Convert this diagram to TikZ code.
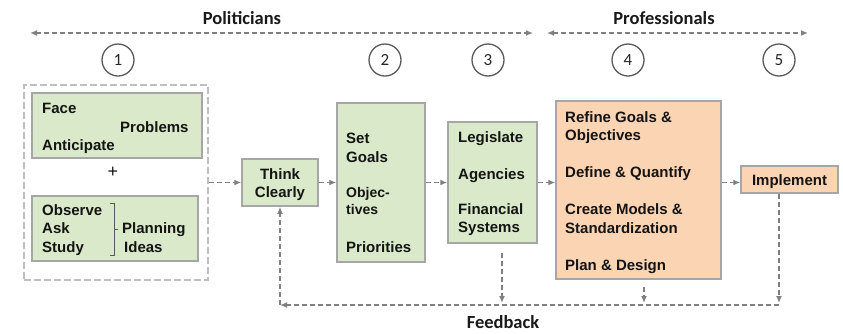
\documentclass[tikz,border=0pt]{standalone}
\usepackage{fontspec}
\setmainfont{Liberation Sans}
\newfontfamily\calibri{Carlito}
\usetikzlibrary{arrows.meta}

\definecolor{boxgreen}{RGB}{217,233,201}
\definecolor{boxorange}{RGB}{251,212,180}
\definecolor{boxline}{RGB}{166,166,166}
\definecolor{flowgray}{RGB}{128,128,128}
\definecolor{dashgray}{RGB}{191,191,191}
\definecolor{inkgray}{RGB}{89,89,89}

\begin{document}
\begin{tikzpicture}[x=1pt, y=-1pt,
    gtip/.tip={Latex[length=7pt,width=6pt]},
    greenbox/.style={draw=boxline, line width=1.5pt, fill=boxgreen, inner sep=0pt},
    orangebox/.style={greenbox, fill=boxorange},
    txt/.style={font=\bfseries\fontsize{15}{18}\selectfont, text=black!92, inner sep=0pt},
    flow/.style={draw=flowgray, line width=1.6pt, dash pattern=on 5pt off 3pt, -gtip},
    twoway/.style={flow, gtip-gtip},
    numcircle/.style={circle, draw=inkgray, line width=1.3pt, minimum size=32pt, inner sep=0pt,
      text=black!85, font=\calibri\fontsize{17}{20}\selectfont},
    heading/.style={font=\calibri\bfseries\fontsize{18.5}{22}\selectfont, text=black!90}]

  \useasboundingbox (0,0) rectangle (843,333);

  % Who is in charge
  \node[heading] (politicians) at (242,18) {Politicians};
  \node[heading] (professionals) at (664,18) {Professionals};
  \coordinate (polL) at (30,33);
  \coordinate (polR) at (533,33);
  \coordinate (proL) at (547,33);
  \coordinate (proR) at (808,33);
  \draw[twoway] (polL) -- (polR);
  \draw[twoway] (proL) -- (proR);

  % Step numbers
  \foreach \n/\x in {1/118, 2/385, 3/488, 4/628, 5/779}
  {
    \node[numcircle] (num\n) at (\x,60) {\n};
  }

  % Step 1: ideas
  \node[draw=dashgray, line width=1.8pt, dash pattern=on 7pt off 3pt,
    minimum width=184pt, minimum height=195pt, inner sep=0pt] (ideas) at (116,182.5) {};
  \node[greenbox, minimum width=170pt, minimum height=65pt] (face) at (117,125.5) {};
  \node[txt, anchor=base west] (face-1) at (42,113) {Face};
  \node[txt, anchor=base west] (face-2) at (120,132) {Problems};
  \node[txt, anchor=base west] (face-3) at (42,150) {Anticipate};
  \node[txt, font=\fontsize{18}{20}\selectfont] (plus) at (113,172) {+};
  \node[greenbox, minimum width=166pt, minimum height=65pt] (observe) at (115,228.5) {};
  \foreach \txt/\y [count=\i] in {Observe/215, Ask/233, Study/252}
  {
    \node[txt, anchor=base west] (observe-\i) at (42,\y) {\txt};
  }
  \draw[inkgray, line width=1pt] (110,203) -- (114,203) -- (114,255) -- (110,255); % Bracket
  \draw[inkgray, line width=1pt] (114,229) -- (118,229);
  \node[txt, anchor=base west] (planning) at (122,233) {Planning};
  \node[txt, anchor=base west] (planideas) at (124,252) {Ideas};

  % Step 2
  \node[greenbox, minimum width=76pt, minimum height=47pt] (think) at (280,182.5) {};
  \node[txt, anchor=base] (think-1) at (280,179) {Think};
  \node[txt, anchor=base] (think-2) at (280,197) {Clearly};
  \node[greenbox, minimum width=88pt, minimum height=159pt] (goals) at (381,182.5) {};
  \foreach \txt/\y [count=\i] in {Set/143, Goals/162, Priorities/252}
  {
    \node[txt, anchor=base west] (goals-\i) at (346,\y) {\txt};
  }
  \node[txt, anchor=base west, font=\bfseries\fontsize{14}{17}\selectfont] (objec) at (346,197) {Objec-};
  \node[txt, anchor=base west, font=\bfseries\fontsize{14}{17}\selectfont] (tives) at (346,214) {tives};

  % Step 3
  \node[greenbox, minimum width=89pt, minimum height=121pt] (legis) at (492.5,182.5) {};
  \foreach \txt/\y [count=\i] in {Legislate/142, Agencies/179, Financial/214, Systems/232}
  {
    \node[txt, anchor=base west] (legis-\i) at (458,\y) {\txt};
  }

  % Step 4
  \node[orangebox, minimum width=165pt, minimum height=178pt] (refine) at (638.5,190) {};
  \foreach \txt/\y [count=\i] in {Refine Goals \&/122, Objectives/140, Define \& Quantify/177,
    Create Models \&/214, Standardization/233, Plan \& Design/270}
  {
    \node[txt, anchor=base west] (refine-\i) at (565,\y) {\txt};
  }

  % Step 5
  \node[orangebox, minimum width=97pt, minimum height=27pt] (impl) at (789.5,179.5) {};
  \node[txt, anchor=base] (impl-1) at (789.5,185.5) {Implement};

  % Main flow
  \draw[flow] (ideas.east) -- (think.west);
  \draw[flow] (think.east) -- (goals.west);
  \draw[flow] (goals.east) -- (legis.west);
  \draw[flow] (legis.east) -- (refine.west |- legis);
  \draw[flow] (refine.east |- legis) -- (impl.west |- legis);

  % Feedback
  \coordinate (fbL) at (think.south |- 0,305);
  \coordinate (fbR) at (779,305);
  \coordinate (legisDown) at (502,253);
  \coordinate (legisHit) at (502,303);
  \coordinate (refineDown) at (644,287);
  \coordinate (refineHit) at (644,303);
  \coordinate (implDown) at (779,194);
  \coordinate (implHit) at (779,303);
  \draw[flow] (legisDown) -- (legisHit);
  \draw[flow] (refineDown) -- (refineHit);
  \draw[flow] (implDown) -- (implHit);
  \draw[flow] (fbR) -- (fbL);
  \draw[flow] (fbL) -- (think.south);
  \node[heading] (feedback) at (503,322) {Feedback};

\end{tikzpicture}
\end{document}
